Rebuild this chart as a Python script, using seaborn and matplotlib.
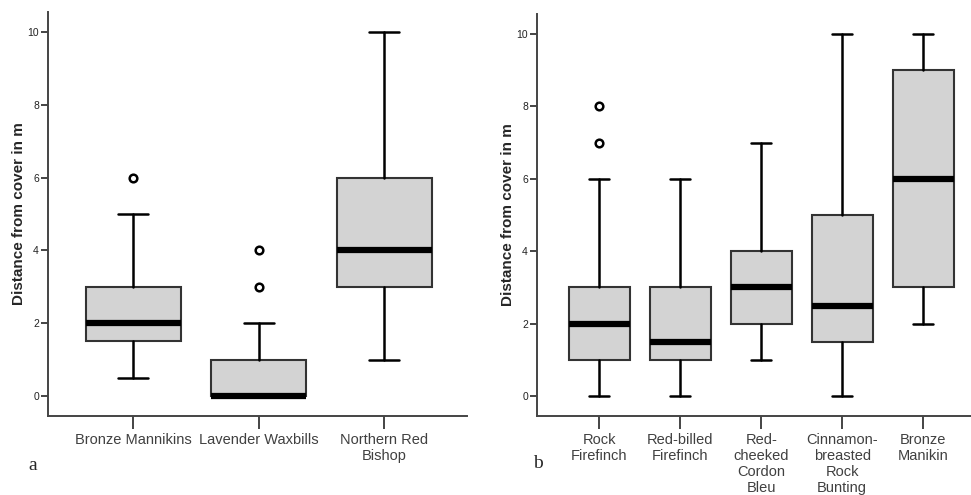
import matplotlib
matplotlib.use("Agg")
import matplotlib.pyplot as plt
import seaborn as sns

# Panel a: five-number summaries (m) and outliers per species
left_species = ["Bronze Mannikins", "Lavender Waxbills", "Northern Red\nBishop"]
left_low = [0.5, 0.0, 1.0]
left_q1 = [1.5, 0.0, 3.0]
left_med = [2.0, 0.0, 4.0]
left_q3 = [3.0, 1.0, 6.0]
left_high = [5.0, 2.0, 10.0]
left_out = [[6.0], [3.0, 4.0], []]

# Panel b
right_species = ["Rock\nFirefinch", "Red-billed\nFirefinch", "Red-\ncheeked\nCordon\nBleu",
                 "Cinnamon-\nbreasted\nRock\nBunting", "Bronze\nManikin"]
right_low = [0.0, 0.0, 1.0, 0.0, 2.0]
right_q1 = [1.0, 1.0, 2.0, 1.5, 3.0]
right_med = [2.0, 1.5, 3.0, 2.5, 6.0]
right_q3 = [3.0, 3.0, 4.0, 5.0, 9.0]
right_high = [6.0, 6.0, 7.0, 10.0, 10.0]
right_out = [[7.0, 8.0], [], [], [], []]

yticks = [0, 2, 4, 6, 8, 10]
ylabel = "Distance from cover in m"

sns.set_style("ticks")
plt.rcParams["font.family"] = ["Liberation Sans", "DejaVu Sans"]

fig = plt.figure(figsize=(9.71, 4.95), dpi=100)
ax_a = fig.add_axes([0.0494, 0.1596, 0.4316, 0.8162])
ax_b = fig.add_axes([0.553, 0.1596, 0.447, 0.8122])

edge = "#333333"
fill = "#d3d3d3"


def draw_panel(ax, names, low, q1, med, q3, high, out, xlim, box_w, cap_w):
    stats = []
    for i in range(len(names)):
        stats.append(dict(whislo=low[i], q1=q1[i], med=med[i], q3=q3[i],
                          whishi=high[i], fliers=out[i], label=names[i]))
    ax.bxp(stats, positions=range(len(names)), widths=box_w, patch_artist=True,
           showfliers=True, capwidths=cap_w,
           boxprops=dict(facecolor=fill, edgecolor=edge, linewidth=1.5),
           medianprops=dict(color="black", linewidth=4.5, solid_capstyle="butt"),
           whiskerprops=dict(color="black", linewidth=1.8),
           capprops=dict(color="black", linewidth=1.8),
           flierprops=dict(marker="o", markerfacecolor="white", markeredgecolor="black",
                           markeredgewidth=1.8, markersize=5.5))
    ax.set_xlim(*xlim)
    ax.set_ylim(-0.55, 10.55)
    ax.set_yticks(yticks)
    ax.set_yticklabels([str(t) for t in yticks], fontsize=7.5, color="#222222")
    ax.set_xticklabels(names, fontsize=10.5, color="#404040", linespacing=1.2)
    ax.set_ylabel(ylabel, fontsize=11, fontweight="bold", labelpad=1)
    sns.despine(ax=ax)
    for s in ("left", "bottom"):
        ax.spines[s].set_linewidth(1.4)
        ax.spines[s].set_color("#444444")
    ax.tick_params(axis="y", length=5, width=1.4, color="#444444", pad=1.5)
    ax.tick_params(axis="x", length=9, width=1.4, color="#444444", pad=3)
    ax.set_facecolor("white")


draw_panel(ax_a, left_species, left_low, left_q1, left_med, left_q3, left_high, left_out,
           (-0.68, 2.66), 0.757, 0.24)
draw_panel(ax_b, right_species, right_low, right_q1, right_med, right_q3, right_high, right_out,
           (-0.77, 4.59), 0.75, 0.25)

fig.text(0.034, 0.06, "a", fontsize=14, family="Liberation Serif", ha="center", va="center")
fig.text(0.554, 0.064, "b", fontsize=14, family="Liberation Serif", ha="center", va="center")

fig.savefig("out.png", dpi=100, facecolor="white")
